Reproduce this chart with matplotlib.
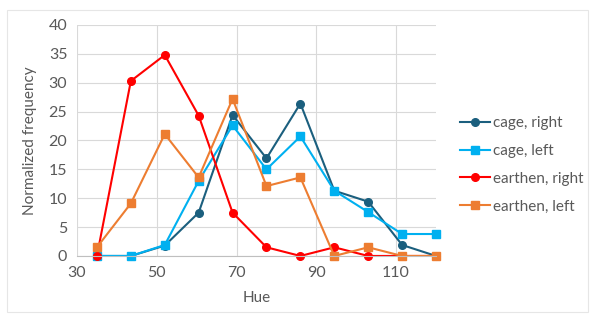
import numpy as np
import matplotlib.pyplot as plt
from matplotlib.patches import FancyBboxPatch

plt.rcParams['font.family'] = ['Lato', 'DejaVu Sans']

hue = [35, 43.5, 52, 60.5, 69, 77.5, 86, 94.5, 103, 111.5, 120]
cage_right = [0, 0, 1.8, 7.5, 24.4, 16.9, 26.4, 11.3, 9.4, 1.9, 0]
cage_left = [0, 0, 1.9, 13.0, 22.6, 15.0, 20.7, 11.3, 7.6, 3.8, 3.8]
earthen_right = [0, 30.3, 34.8, 24.3, 7.5, 1.5, 0, 1.5, 0, 0, 0]
earthen_left = [1.5, 9.1, 21.1, 13.6, 27.2, 12.1, 13.6, 0, 1.5, 0, 0]

fig = plt.figure(figsize=(5.95, 3.16), dpi=100)
# light border round the chart
fig.patches.append(FancyBboxPatch((0.012, 0.012), 0.976, 0.955,
                                  boxstyle="square,pad=0", transform=fig.transFigure,
                                  fill=False, edgecolor='#E6E6E6', lw=0.8))
ax = fig.add_axes([0.1294, 0.19, 0.6034, 0.731])

kw = dict(ms=5.5, lw=1.5, clip_on=False)
ax.plot(hue, cage_right, color='#1B5F7E', marker='o', label='cage, right', **kw)
ax.plot(hue, cage_left, color='#00B0F0', marker='s', label='cage, left', **kw)
ax.plot(hue, earthen_right, color='#FF0000', marker='o', label='earthen, right', **kw)
ax.plot(hue, earthen_left, color='#ED7D31', marker='s', label='earthen, left', **kw)

ax.set_xlim(30, 120)
ax.set_ylim(0, 40)
ax.set_xticks([30, 50, 70, 90, 110])
ax.set_yticks(np.arange(0, 41, 5))
ax.grid(True, color='#D9D9D9', lw=0.8)
ax.set_axisbelow(True)
for s in ['top', 'right', 'left']:
    ax.spines[s].set_visible(False)
ax.spines['bottom'].set_color('#BFBFBF')
ax.tick_params(length=0, labelsize=11.5, colors='#595959', pad=7)

ax.set_xlabel('Hue', fontsize=11, color='#595959', labelpad=8)
ax.set_ylabel('Normalized frequency', fontsize=11, color='#595959', labelpad=8)

fig.legend(loc='center left', bbox_to_anchor=(0.765, 0.478), frameon=False,
           fontsize=11, labelcolor='#595959', handlelength=2.0, handletextpad=0.15,
           labelspacing=0.9, borderaxespad=0, borderpad=0.3)

fig.savefig('out.png', dpi=100)
